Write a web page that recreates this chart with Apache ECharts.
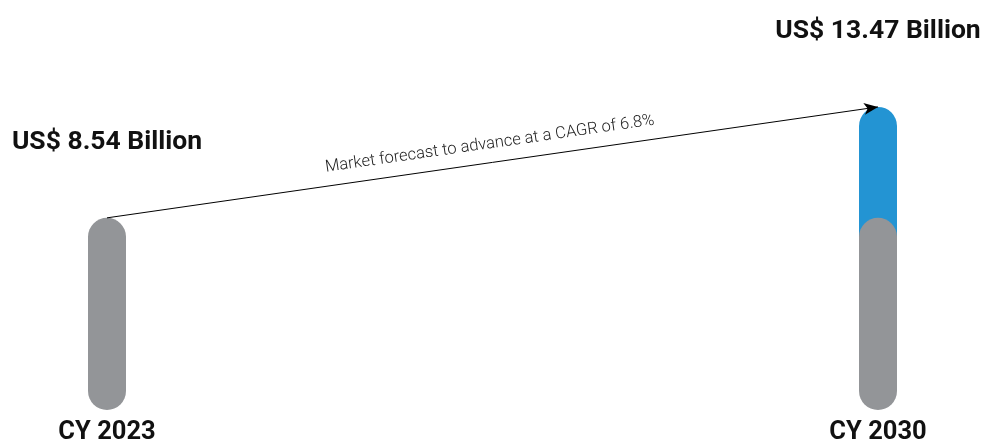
<!DOCTYPE html>
<html>
<head>
<meta charset="utf-8">
<script src="https://cdn.jsdelivr.net/npm/echarts@6/dist/echarts.min.js"></script>
<style>
  html, body { margin: 0; padding: 0; background: #fff; }
  #chart { width: 983px; height: 446px; }
</style>
</head>
<body>
<div id="chart"></div>
<script>
const categories = ['CY 2023', 'CY 2030']
const baseValues = [8.54, 8.54]
const forecastValues = [null, 13.47]
// the blue bar is only drawn down to here, hidden behind the gray one
const forecastFloor = [null, 5.7]
const valueLabels = ['US$ 8.54 Billion', 'US$ 13.47 Billion']
const cagrText = 'Market forecast to advance at a CAGR of 6.8%'

const GRAY = '#939598'
const BLUE = '#2394d3'

const myChart = echarts.init(document.getElementById('chart'))

const labelStyle = {
  show: true,
  position: 'top',
  distance: 62,
  fontFamily: 'Roboto',
  fontWeight: 'bold',
  fontSize: 26.5,
  color: '#111'
}

const option = {
  animation: false,
  grid: {
    left: 107,
    right: 105,
    top: 95,
    bottom: 33
  },
  xAxis: {
    type: 'category',
    data: categories,
    boundaryGap: false,
    axisLine: { show: false },
    axisTick: { show: false },
    axisLabel: {
      margin: 10,
      fontFamily: 'Roboto',
      fontWeight: 'bold',
      fontSize: 25.5,
      color: '#111'
    }
  },
  yAxis: {
    type: 'value',
    min: 0,
    max: 14,
    show: false,
    splitLine: { show: false }
  },
  series: [
    {
      type: 'bar',
      stack: 'forecast',
      barWidth: 38,
      barGap: '-100%',
      data: forecastFloor,
      itemStyle: { color: 'transparent' },
      silent: true,
      z: 1
    },
    {
      // 2030 forecast (blue)
      type: 'bar',
      stack: 'forecast',
      barWidth: 38,
      barGap: '-100%',
      data: forecastValues.map((v, i) => (v == null ? null : v - forecastFloor[i])),
      itemStyle: { color: BLUE, borderRadius: [19, 19, 0, 0] },
      label: {
        ...labelStyle,
        formatter: (p) => valueLabels[p.dataIndex]
      },
      z: 2
    },
    {
      // base market size (gray)
      type: 'bar',
      barWidth: 38,
      barGap: '-100%',
      data: baseValues.map((v, i) => ({
        value: v,
        label: { show: i === 0 }
      })),
      itemStyle: { color: GRAY, borderRadius: 19 },
      label: {
        ...labelStyle,
        formatter: (p) => valueLabels[p.dataIndex]
      },
      markLine: {
        silent: true,
        symbol: ['none', 'arrow'],
        symbolSize: [9, 14],
        lineStyle: { color: '#000', width: 1, type: 'solid' },
        label: {
          show: true,
          position: 'insideMiddleTop',
          distance: 10,
          formatter: cagrText,
          fontFamily: 'Roboto',
          fontWeight: 300,
          fontSize: 16.5,
          color: '#222'
        },
        data: [
          [
            { coord: [categories[0], baseValues[0]] },
            { coord: [categories[1], forecastValues[1]] }
          ]
        ]
      },
      z: 3
    }
  ]
}

myChart.setOption(option)
</script>
</body>
</html>
